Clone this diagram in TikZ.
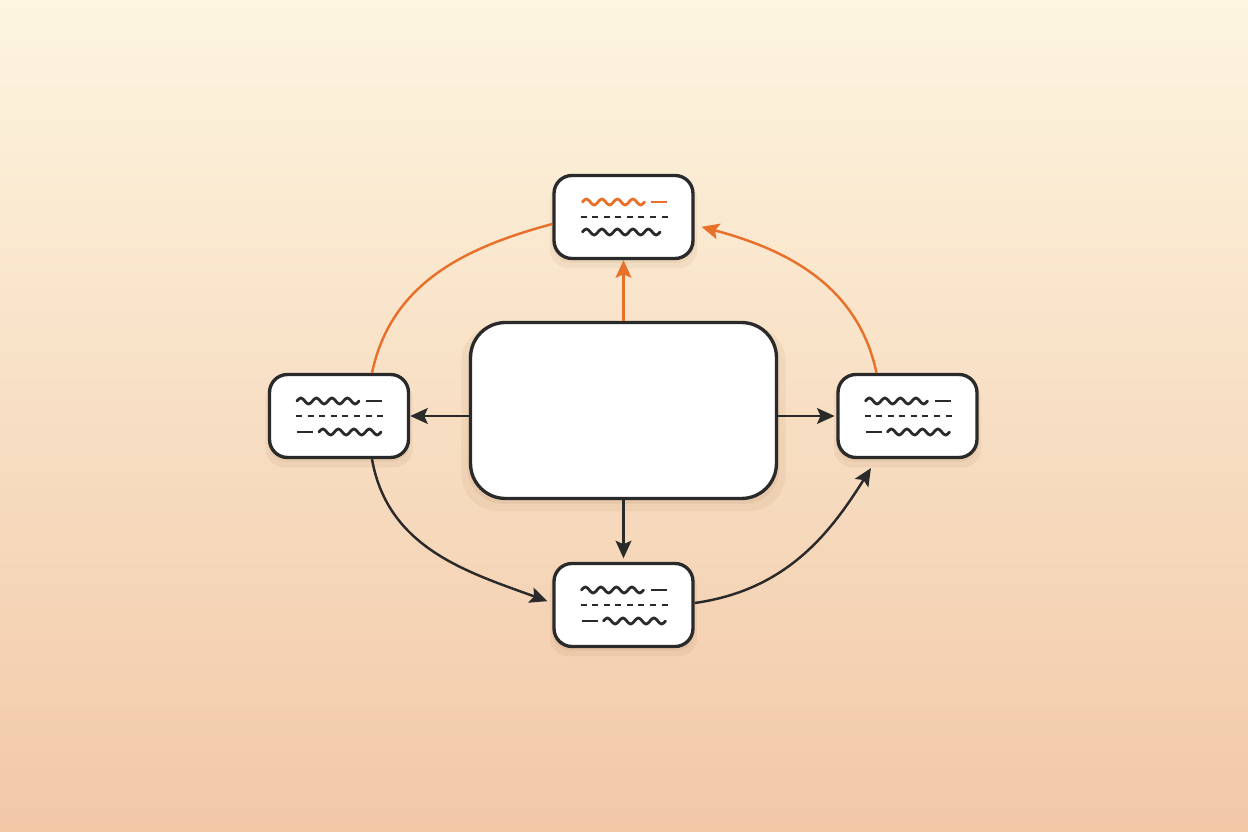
\documentclass[tikz,border=0pt]{standalone}
\usetikzlibrary{arrows.meta,calc,shadows}

\definecolor{bgTop}{HTML}{FDF5E0}
\definecolor{bgBottom}{HTML}{F2C8A7}
\definecolor{inkDark}{HTML}{2A2A2A}
\definecolor{accent}{HTML}{E8702A}
\definecolor{shadeBrown}{HTML}{8A5A30}

\begin{document}
\begin{tikzpicture}
[x=0.02cm,y=0.02cm,
 softShadow/.style={general shadow={fill=shadeBrown,opacity=0.07,shadow yshift=-4pt,shadow scale=1.06},
                    general shadow={fill=shadeBrown,opacity=0.07,shadow yshift=-2pt,shadow scale=1.02}},
 cardDecorate/.style={shape=rectangle,rounded corners=0.36cm,draw=inkDark,line width=1.9pt,
                      fill=white,minimum width=2.78cm,minimum height=1.66cm,inner sep=0pt,softShadow},
 hubDecorate/.style={cardDecorate,rounded corners=0.7cm,minimum width=6.12cm,minimum height=3.52cm},
 lineDecorate/.style={-{Stealth[length=10pt,width=9pt,inset=2pt]},line width=1.4pt,draw=inkDark},
 hotDecorate/.style={lineDecorate,draw=accent},
 plainHot/.style={-,line width=1.4pt,draw=accent},
 waveDecorate/.style={line width=1.6pt,line cap=round,line join=round,draw=inkDark},
 barDecorate/.style={line width=1.7pt,draw=inkDark},
 dashDecorate/.style={line width=1.7pt,draw=inkDark,dash pattern=on 0.12cm off 0.112cm}]
%% background
\useasboundingbox (0,0) rectangle (1248,832);
\shade[top color=bgTop,bottom color=bgBottom] (0,0) rectangle (1248,832);
%% nodes or boxes
\node (hub) at (623.5,421.5) [hubDecorate] {};
\node (tnode) at (623.5,615) [cardDecorate] {};
\node (lnode) at (339,416) [cardDecorate] {};
\node (rnode) at (907.5,416) [cardDecorate] {};
\node (bnode) at (623.5,227) [cardDecorate] {};
%% squiggle lines in the cards
\draw[waveDecorate,draw=accent] ($(tnode)+(-41,15)$)
  \foreach \k in {1,...,4}{sin ++(3.875,3) cos ++(3.875,-3) sin ++(3.875,-3) cos ++(3.875,3)};
\draw[barDecorate,draw=accent] ($(tnode)+(27,15)$) -- ($(tnode)+(43,15)$);
\draw[dashDecorate] ($(tnode)+(-43,0)$) -- ($(tnode)+(44,0)$);
\draw[waveDecorate] ($(tnode)+(-41,-15)$)
  \foreach \k in {1,...,5}{sin ++(3.875,3) cos ++(3.875,-3) sin ++(3.875,-3) cos ++(3.875,3)};
\foreach \n in {lnode,rnode,bnode}{
  \draw[waveDecorate] ($(\n)+(-42,15)$)
    \foreach \k in {1,...,4}{sin ++(3.875,3) cos ++(3.875,-3) sin ++(3.875,-3) cos ++(3.875,3)};
  \draw[barDecorate] ($(\n)+(27,15)$) -- ($(\n)+(43,15)$);
  \draw[dashDecorate] ($(\n)+(-43,0)$) -- ($(\n)+(44,0)$);
  \draw[barDecorate] ($(\n)+(-42,-16)$) -- ($(\n)+(-26,-16)$);
  \draw[waveDecorate] ($(\n)+(-20,-16)$)
    \foreach \k in {1,...,4}{sin ++(3.875,3) cos ++(3.875,-3) sin ++(3.875,-3) cos ++(3.875,3)};
}
%% end points of the links
\coordinate (hWest) at (hub.west |- lnode.east);
\coordinate (hEast) at (hub.east |- rnode.west);
\coordinate (lTop) at ($(lnode.north)+(33,0)$);
\coordinate (lBottom) at ($(lnode.south)+(33,0)$);
\coordinate (rTop) at ($(rnode.north)+(-31,0)$);
\coordinate (rBottom) at ($(rnode.south)+(-31,0)$);
\coordinate (tLeft) at ($(tnode.west)+(0,-7)$);
\coordinate (tRight) at ($(tnode.east)+(0,-8)$);
\coordinate (bLeft) at ($(bnode.west)+(0,2)$);
\coordinate (bRight) at ($(bnode.east)+(0,2)$);
%% edges or lines
\path
(hub.north) edge[hotDecorate] (tnode.south)
(hWest) edge[lineDecorate] (lnode.east)
(hEast) edge[lineDecorate,shorten >=1pt] (rnode.west)
(hub.south) edge[lineDecorate,shorten >=2pt] (bnode.north)
(lTop) edge[plainHot,out=78,in=195] (tLeft)
(rTop) edge[hotDecorate,out=102,in=345,shorten >=4pt] (tRight)
(lBottom) edge[lineDecorate,out=-80,in=160,shorten >=3pt] (bLeft)
(bRight) edge[lineDecorate,out=8,in=238,shorten >=6pt] (rBottom);
\end{tikzpicture}
\end{document}
